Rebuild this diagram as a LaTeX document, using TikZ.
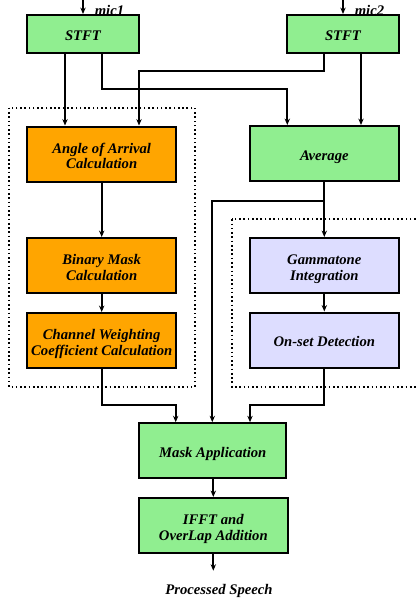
\documentclass[tikz,border=0pt]{standalone}
\usepackage{fontspec}
\setmainfont{Liberation Serif}
\usetikzlibrary{arrows.meta}
\definecolor{gbox}{RGB}{144,238,144}
\definecolor{obox}{RGB}{255,165,0}
\definecolor{lbox}{RGB}{221,221,255}
\newcommand\bxt[1]{\raisebox{-2.8pt}[\height][\depth]{\begin{tabular}{@{}c@{}}#1\end{tabular}}}
\begin{document}
\begin{tikzpicture}[x=0.75pt,y=-0.75pt,
  every node/.style={font=\fontsize{11}{11.8}\selectfont\bfseries\itshape},
  blk/.style={draw=black, line width=1.5pt, inner sep=0pt},
  stftbox/.style={blk, fill=gbox, minimum width=84pt, minimum height=28.5pt},
  widebox/.style={blk, minimum width=111.75pt, minimum height=41.25pt},
  arr/.style={line width=1.4pt, -{Stealth[length=4.8pt,width=4pt]}},
  dotbox/.style={line width=1.3pt, dash pattern=on 1.2pt off 2pt},
  lbl/.style={inner sep=0pt, anchor=base west}]
\useasboundingbox (0,0) rectangle (416,607);
% mic labels (drawn first so boxes overlap them)
\node[lbl] (m1) at (94.5,15.5) {mic1};
\node[lbl] (m2) at (354.5,15.5) {mic2};
% dotted groups
\draw[dotbox] (9,107.7) rectangle (195,386.7);
\draw[dotbox] (231.7,219.3) rectangle (440,386.7);
% boxes
\node[stftbox] (s1) at (83,34) {\bxt{STFT}};
\node[stftbox] (s2) at (343,34) {\bxt{STFT}};
\node[widebox, fill=obox] (ang) at (101.7,154) {\bxt{Angle of Arrival\\Calculation}};
\node[widebox, fill=gbox] (avg) at (324.3,153.5) {\bxt{Average}};
\node[widebox, fill=obox] (bin) at (101.7,265.5) {\bxt{Binary Mask\\Calculation}};
\node[widebox, fill=obox] (ch) at (101.7,340.5) {\bxt{Channel Weighting\\Coefficient Calculation}};
\node[widebox, fill=lbox] (gam) at (324.3,265.5) {\bxt{Gammatone\\Integration}};
\node[widebox, fill=lbox] (on) at (324.3,340) {\bxt{On-set Detection}};
\node[blk, fill=gbox, minimum width=110.6pt, minimum height=41.25pt] (mask) at (212.75,450.7) {\bxt{Mask Application}};
\node[blk, fill=gbox, minimum width=111.4pt, minimum height=41pt] (ifft) at (213.3,525.3) {\bxt{IFFT and\\OverLap Addition}};
\node (out) at (219,588) {\bxt{Processed Speech}};
% inputs
\coordinate (in1) at (83,0);
\coordinate (in2) at (343,0);
\draw[arr] (in1) -- (s1.north);
\draw[arr] (in2) -- (s2.north);
% STFT outputs
\draw[arr] (s1.south -| 65,0) -- (ang.north -| 65,0);
\draw[arr] (s1.south -| 101.7,0) -- (101.7,89.3) -- (287.3,89.3) -- (avg.north -| 287.3,0);
\draw[arr] (s2.south -| 324.3,0) -- (324.3,70.7) -- (139,70.7) -- (ang.north -| 139,0);
\draw[arr] (s2.south -| 361,0) -- (avg.north -| 361,0);
% left chain
\draw[arr] (ang.south) -- (bin.north);
\draw[arr] (bin.south) -- (ch.north);
% right chain
\draw[arr] (avg.south) -- (gam.north);
\draw[arr] (gam.south) -- (on.north);
\draw[arr] (avg.south |- 0,200.7) -- (212.3,200.7) -- (mask.north -| 212.3,0);
% to mask
\draw[arr] (ch.south) -- (101.7,405) -- (175.7,405) -- (mask.north -| 175.7,0);
\draw[arr] (on.south) -- (324.3,405) -- (250,405) -- (mask.north -| 250,0);
% output
\draw[arr] (mask.south -| ifft.north) -- (ifft.north);
\coordinate (o1) at (213.3,570.7);
\draw[arr] (ifft.south) -- (o1);
\end{tikzpicture}
\end{document}
